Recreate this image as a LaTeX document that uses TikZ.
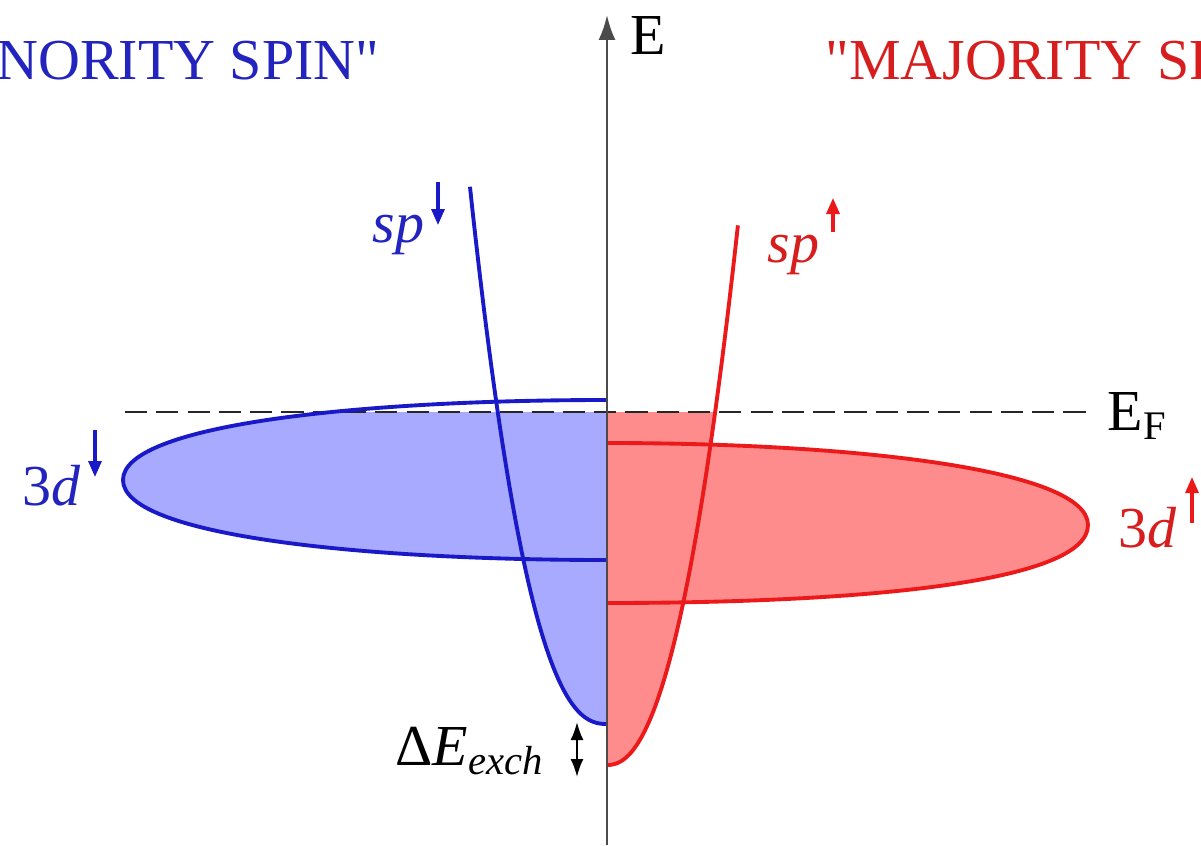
\documentclass[tikz,border=0pt]{standalone}
\usepackage{fontspec}
\setmainfont{Liberation Serif}[Ligatures=TeXOff]
\usetikzlibrary{arrows.meta}
\definecolor{minline}{RGB}{25,25,200}
\definecolor{minfill}{RGB}{168,170,255}
\definecolor{majline}{RGB}{235,25,25}
\definecolor{majfill}{RGB}{255,140,140}
\definecolor{mintext}{RGB}{35,35,190}
\definecolor{majtext}{RGB}{215,30,30}
\definecolor{axisgray}{RGB}{75,75,75}

\begin{document}
\begin{tikzpicture}[
        font=\rmfamily\fontsize{16.5}{20}\selectfont,
        band/.style={draw=#1line, line width=1.1pt},
        bandfill/.style={fill=#1fill},
        tag/.style={text=#1text, inner sep=0pt},
        plain/.style={inner sep=0pt},
        spin/.style={draw=#1line, line width=0.9pt, -{Triangle[length=1.6mm,width=1.3mm]}},
        energyaxis/.style={draw=axisgray, line width=0.7pt, -{Latex[length=2.5mm,width=1.7mm]}},
        fermi/.style={draw=black!85, line width=0.7pt, dash pattern=on 6.3pt off 2.6pt},
        split/.style={draw=black, line width=0.6pt, {Latex[length=1.8mm,width=1.3mm]}-{Latex[length=1.8mm,width=1.3mm]}}
    ]
        \path[use as bounding box, clip] (-6.07,0) rectangle (5.94,8.45);

        \begin{scope}
            \clip (-6.07,0) rectangle (0,4.33);
            \path[bandfill=min] (0,4.45) .. controls (-2.5,4.45) and (-4.84,4.2) .. (-4.84,3.65)
                .. controls (-4.84,3.1) and (-2.5,2.85) .. (0,2.85) -- cycle;
            \path[bandfill=min] (0,1.21) -- plot[domain=0.001:2.015, samples=60] ({-0.68*\x}, {1.21+\x^2.4}) -- (0,6.58) -- cycle;
        \end{scope}
        \begin{scope}
            \clip (0,0) rectangle (5.94,4.33);
            \path[bandfill=maj] (0,4.02) .. controls (2.5,4.02) and (4.81,3.75) .. (4.81,3.20)
                .. controls (4.81,2.62) and (2.5,2.42) .. (0,2.42) -- cycle;
            \path[bandfill=maj] (0,0.80) -- plot[domain=0.001:2.136, samples=60] ({0.613*\x}, {0.80+\x^2.222}) -- (0,6.20) -- cycle;
        \end{scope}

        \coordinate (fermileft) at (-4.82,4.33);
        \coordinate (fermiright) at (4.83,4.33);
        \draw[fermi] (fermileft) -- (fermiright);

        \draw[band=min] (0,4.45) .. controls (-2.5,4.45) and (-4.84,4.2) .. (-4.84,3.65)
            .. controls (-4.84,3.1) and (-2.5,2.85) .. (0,2.85);
        \draw[band=min] (0,1.21) -- plot[domain=0.001:2.015, samples=60] ({-0.68*\x}, {1.21+\x^2.4});
        \draw[band=maj] (0,4.02) .. controls (2.5,4.02) and (4.81,3.75) .. (4.81,3.20)
            .. controls (4.81,2.62) and (2.5,2.42) .. (0,2.42);
        \draw[band=maj] (0,0.80) -- plot[domain=0.001:2.136, samples=60] ({0.613*\x}, {0.80+\x^2.222});

        \coordinate (origin) at (0,0);
        \coordinate (axistop) at (0,8.30);
        \draw[energyaxis] (origin) -- (axistop);

        \node[tag=min, anchor=base east] (minority) at (-2.27,7.65) {"MINORITY SPIN"};
        \node[tag=maj, anchor=base west] (majority) at (2.18,7.65) {"MAJORITY SPIN"};
        \node[plain, anchor=base west] (energy) at (0.23,7.90) {E};
        \node[plain, anchor=base west] (fermilabel) at (5.00,4.15) {E\textsubscript{F}};

        \node[tag=min, anchor=base west] (spmin) at (-2.35,6.03) {\textit{sp}};
        \node[tag=min, anchor=base west] (dmin) at (-5.85,3.40) {3\textit{d}};
        \node[tag=maj, anchor=base west] (spmaj) at (1.60,5.83) {\textit{sp}};
        \node[tag=maj, anchor=base west] (dmaj) at (5.11,2.98) {3\textit{d}};

        \draw[spin=min] (-1.69,6.63) -- (-1.69,6.20);
        \draw[spin=min] (-5.12,4.15) -- (-5.12,3.68);
        \draw[spin=maj] (2.26,6.13) -- (2.26,6.47);
        \draw[spin=maj] (5.85,3.22) -- (5.85,3.68);

        \node[plain, anchor=base west] (exch) at (-2.12,0.80) {Δ\textit{E}\textsubscript{\textit{exch}}};
        \coordinate (exchtop) at (-0.30,1.23);
        \coordinate (exchbottom) at (-0.30,0.68);
        \draw[split] (exchtop) -- (exchbottom);
    \end{tikzpicture}
\end{document}
